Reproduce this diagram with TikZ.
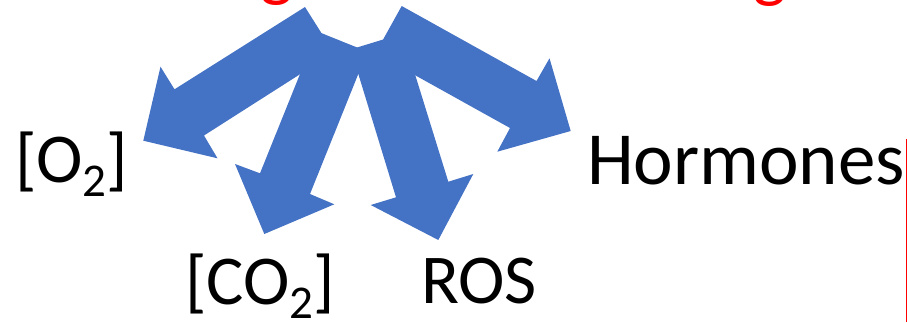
\documentclass[tikz,border=0pt]{standalone}
\usepackage{fontspec}
\setmainfont{Carlito}
\definecolor{accentblue}{HTML}{4472C4}
\definecolor{titlered}{HTML}{FF0000}
\tikzset{
  blockarrow/.style={fill=accentblue, draw=none},
  label/.style={anchor=base west, inner sep=0pt, outer sep=0pt, text=black},
  titlepart/.style={anchor=base west, inner sep=0pt, text=titlered},
}
\newcommand{\sub}[1]{\raisebox{-0.2em}{\fontsize{47}{47}\selectfont #1}}
\begin{document}
\begin{tikzpicture}[x=1pt,y=-1pt]
  \useasboundingbox (0,0) rectangle (907,322);
  \begin{scope}
    \clip (0,0) rectangle (907,322);
    % descenders of the red heading above
    \node[titlepart, font=\fontsize{70}{80}\selectfont] (ga) at (260,-7) {g};
    \node[titlepart, font=\fontsize{70}{80}\selectfont] (gb) at (753,-6) {g};
  \end{scope}

  % four block arrows fanning out from a shared tail
  \fill[blockarrow] (305,7) -- (174.5,89.3) -- (160.5,66.7) -- (143.3,140.7)
        -- (217.5,158.3) -- (204,135.5) -- (333.8,52.7) -- cycle;
  \fill[blockarrow] (317.2,31.4) -- (367.3,51.6) -- (310,194) -- (334.3,204.3)
        -- (264.3,234) -- (235,164) -- (260,173.3) -- cycle;
  \fill[blockarrow] (350.8,49.4) -- (402.4,33.6) -- (448.3,181.7) -- (473.3,174)
        -- (438.3,240) -- (370.7,205) -- (396,197.3) -- cycle;
  \fill[blockarrow] (401.7,6) -- (536.5,81) -- (549.5,58.3) -- (570.7,131)
        -- (497.3,151.7) -- (510,128) -- (375.5,53.2) -- cycle;

  % labels
  \node[label, font=\fontsize{70}{80}\selectfont] (o2) at (15,182.5) {[O\sub{2}]};
  \node[label, font=\fontsize{70}{80}\selectfont] (co2) at (185,304) {[CO\sub{2}]};
  \node[label, font=\fontsize{70}{80}\selectfont] (ros) at (421,303.5) {ROS};
  \node[label, font=\fontsize{75}{80}\selectfont] (horm) at (587,184) {Hormones};

  % red rule at the right edge
  \coordinate (rtop) at (906,139.3);
  \coordinate (rbot) at (906,322);
  \draw[titlered, line width=1pt] (rtop) -- (rbot);
\end{tikzpicture}
\end{document}
